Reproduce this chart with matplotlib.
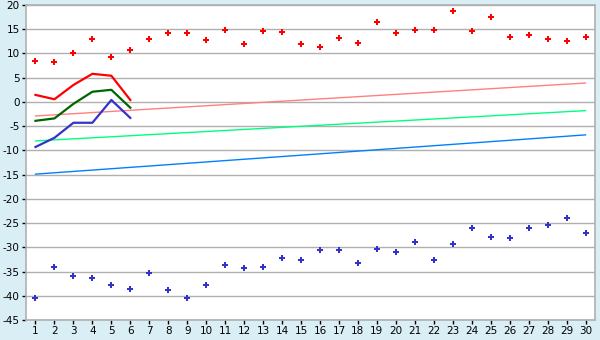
import matplotlib.pyplot as plt

plt.rcParams['axes.unicode_minus'] = False

days = list(range(1, 31))

# upper scatter (red) and lower scatter (blue)
high_pts = [8.5, 8.3, 10.0, 13.0, 9.3, 10.7, 13.0, 14.3, 14.3, 12.8,
            14.9, 12.0, 14.7, 14.5, 12.0, 11.4, 13.2, 12.2, 16.5, 14.3,
            14.9, 14.9, 18.8, 14.7, 17.6, 13.4, 13.8, 13.0, 12.6, 13.4]
low_pts = [-40.5, -34.1, -35.9, -36.3, -37.8, -38.6, -35.3, -38.8, -40.5, -37.8,
           -33.7, -34.3, -34.1, -32.2, -32.6, -30.6, -30.6, -33.3, -30.4, -31.0,
           -28.9, -32.6, -29.3, -26.0, -27.9, -28.1, -26.0, -25.4, -24.0, -27.1]

# short lines for the first six days
first_days = [1, 2, 3, 4, 5, 6]
line_red = [1.45, 0.55, 3.5, 5.8, 5.4, 0.4]
line_green = [-3.9, -3.4, -0.4, 2.1, 2.5, -1.2]
line_blue = [-9.3, -7.4, -4.3, -4.3, 0.4, -3.3]

# trend lines (start / end)
trend_x = [1, 30]
trend_red = [-2.9, 3.9]
trend_green = [-8.05, -1.8]
trend_blue = [-14.9, -6.8]

y_ticks = list(range(-45, 25, 5))

fig = plt.figure(figsize=(6, 3.4), dpi=100)
fig.patch.set_facecolor('#daeef5')
ax = fig.add_axes([26 / 600, 1 - 320 / 340, 569 / 600, 315 / 340])
ax.set_facecolor('white')

# Trend lines
ax.plot(trend_x, trend_red, color='#ff8080', lw=1)
ax.plot(trend_x, trend_green, color='#00ff80', lw=1)
ax.plot(trend_x, trend_blue, color='#0080ff', lw=1)

# Short lines
ax.plot(first_days, line_red, color='#ff0000', lw=1.6)
ax.plot(first_days, line_green, color='#006600', lw=1.6)
ax.plot(first_days, line_blue, color='#3333cc', lw=1.6)

# Scatter points
ax.plot(days, high_pts, 'P', color='#ff0000', ms=4.5, mew=0, ls='none')
ax.plot(days, low_pts, 'P', color='#3333cc', ms=4.5, mew=0, ls='none')

ax.set_xlim(0.5, 30.5)
ax.set_ylim(-45, 20)
ax.set_xticks(days)
ax.set_yticks(y_ticks)
ax.yaxis.grid(True, color='#b0b0b0', lw=1)
ax.set_axisbelow(True)
for s in ax.spines.values():
    s.set_color('#b0b0b0')
    s.set_linewidth(1.2)
ax.tick_params(axis='both', direction='out', length=3, width=1, color='black',
               labelsize=7.5, pad=1.5)

plt.savefig('out.png', dpi=100, facecolor=fig.get_facecolor())
